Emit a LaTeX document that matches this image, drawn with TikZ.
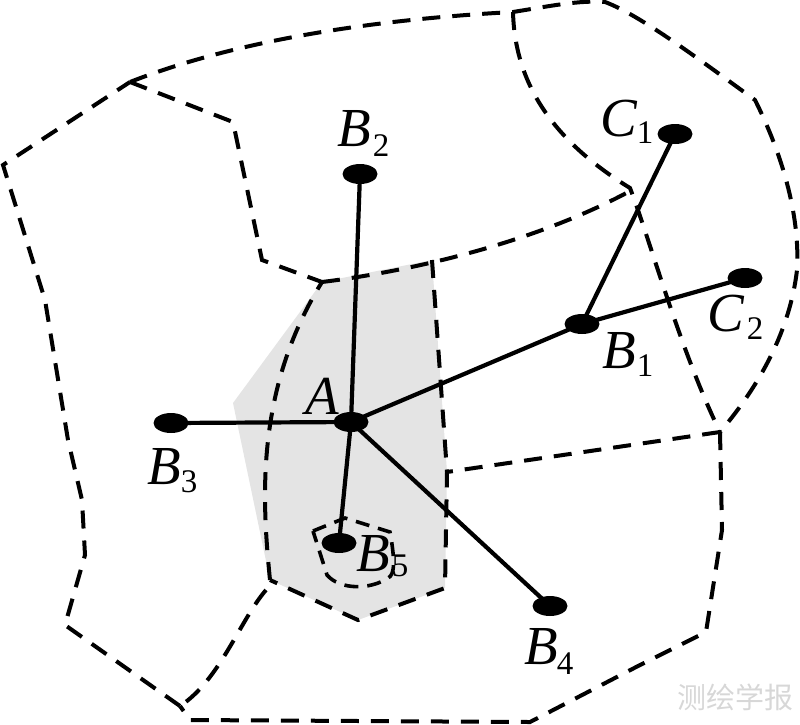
\documentclass[tikz,border=0pt]{standalone}
\usepackage{fontspec}
\setmainfont{Liberation Serif}
\newfontfamily\cjk{Noto Sans CJK SC}
\definecolor{regiongray}{RGB}{228,228,228}
\definecolor{markgray}{RGB}{215,215,215}
\usetikzlibrary{shapes.geometric}
\tikzset{
  site/.style={ellipse,fill=black,minimum width=35pt,minimum height=20pt,inner sep=0pt},
  link/.style={line width=4.2pt},
  bound/.style={line width=4pt,dash pattern=on 18pt off 12pt},
  lab/.style={inner sep=0pt,font=\fontsize{55}{55}\selectfont\itshape},
  sub/.style={inner sep=0pt,font=\fontsize{33}{33}\selectfont}
}
\begin{document}
\begin{tikzpicture}[x=1pt,y=-1pt]
\useasboundingbox (0,0) rectangle (800,724);
\fill[regiongray] (322,282)--(432,260)--(447,472)--(445,588)--(358,620)--(270,580)--(233,403)--cycle;
% outer boundary
\draw[bound] (130,82) .. controls (250,35) and (400,18) .. (513,12);
\draw[bound] (513,12) .. controls (550,6) and (580,0) .. (605,2) .. controls (640,15) and (700,60) .. (755,100) .. controls (785,160) and (800,220) .. (797,270) .. controls (790,330) and (760,385) .. (720,432);
\draw[bound] (720,432) -- (722,530) -- (706,632) -- (640,665) -- (530,722) -- (190,720) -- (180,706);
\draw[bound] (180,706) -- (65,625) -- (85,555) -- (82,500) -- (68,440) -- (45,300) -- (3,165) -- (130,82);
% inner boundaries
\draw[bound] (130,82) -- (233,122) -- (262,260) -- (322,282);
\draw[bound] (322,282) .. controls (420,270) and (540,240) .. (632,190);
\draw[bound] (513,12) .. controls (515,90) and (560,145) .. (630,188) .. controls (650,240) and (680,350) .. (720,432);
\draw[bound] (720,432) -- (447,472);
\draw[bound] (432,260) -- (447,472) -- (445,588) -- (358,620) -- (270,580);
\draw[bound] (270,580) .. controls (262,500) and (255,390) .. (322,282);
\draw[bound] (266,590) .. controls (240,620) and (220,680) .. (180,706);
\draw[line width=3.6pt,dash pattern=on 14pt off 9pt] (313,531) -- (345,518) -- (390,532) .. controls (395,560) and (395,575) .. (388,578) .. controls (370,590) and (340,590) .. (327,575) -- (313,531);
% sites
\node[site] (A) at (351,422) {};
\node[site] (B1) at (582,324) {};
\node[site] (B2) at (360,174) {};
\node[site] (B3) at (171,423) {};
\node[site] (B4) at (550,606) {};
\node[site] (B5) at (339,543) {};
\node[site] (C1) at (675,134) {};
\node[site] (C2) at (745,278) {};
\draw[link] (A.center) -- (B1.center);
\draw[link] (A.center) -- (B2.center);
\draw[link] (A.center) -- (B3.center);
\draw[link] (A.center) -- (B4.center);
\draw[link] (A.center) -- (B5.center);
\draw[link] (B1.center) -- (C1.center);
\draw[link] (B1.center) -- (C2.center);
% labels
\node[lab] (tA) at (322,396) {A};
\node[lab] (tB1) at (619,351) {B};
\node[sub] (sB1) at (645,366) {1};
\node[lab] (tB2) at (354,129) {B};
\node[sub] (sB2) at (381,146) {2};
\node[lab] (tB3) at (164,467) {B};
\node[sub] (sB3) at (189,482) {3};
\node[lab] (tB4) at (541,647) {B};
\node[sub] (sB4) at (565,664) {4};
\node[lab] (tB5) at (373,554) {B};
\node[sub] (sB5) at (400,566) {5};
\node[lab] (tC1) at (619,119) {C};
\node[sub] (sC1) at (645,133) {1};
\node[lab] (tC2) at (726,314) {C};
\node[sub] (sC2) at (755,329) {2};
\node[inner sep=0pt,text=markgray,font=\cjk\fontsize{29}{29}\selectfont] (wm) at (735,697) {测绘学报};
\end{tikzpicture}
\end{document}
